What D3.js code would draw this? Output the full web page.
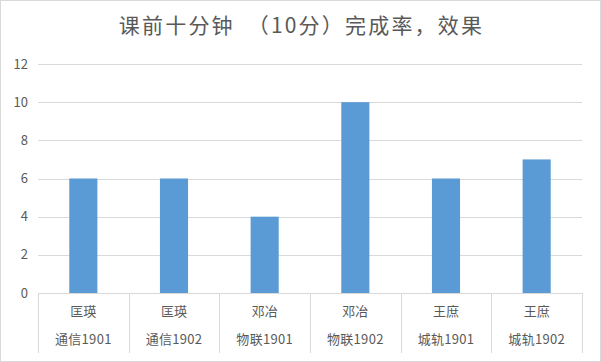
<!DOCTYPE html>
<html>
<head>
<meta charset="utf-8">
<script src="https://cdn.jsdelivr.net/npm/d3@7"></script>
<style>
  body { margin: 0; background: #fff; }
  svg { display: block; font-family: "Noto Sans CJK SC", "Noto Sans", sans-serif; }
</style>
</head>
<body>
<div id="chart"></div>
<script>
// chart data
var teachers = ["匡瑛", "匡瑛", "邓冶", "邓冶", "王庶", "王庶"];
var classes = ["通信1901", "通信1902", "物联1901", "物联1902", "城轨1901", "城轨1902"];
var values = [6, 6, 4, 10, 6, 7];
var yTicks = [0, 2, 4, 6, 8, 10, 12];
var title = "课前十分钟 （10分）完成率，效果";

var width = 601
var height = 362
var margin = { top: 64, right: 19, bottom: 69, left: 38 }

var svg = d3.select("#chart")
    .append("svg")
    .attr("width", width)
    .attr("height", height)

// outer border
svg.append("rect")
    .attr("x", 0.5).attr("y", 0.5)
    .attr("width", width - 1).attr("height", height - 1)
    .attr("fill", "#fff")
    .attr("stroke", "#d9d9d9")

svg.append("text")
    .attr("x", width / 2 + 1)
    .attr("y", 33)
    .attr("text-anchor", "middle")
    .attr("fill", "#595959")
    .style("font-size", "21px")
    .style("letter-spacing", "2.2px")
    .style("word-spacing", "6px")
    .text(title)

var keys = d3.range(values.length)

var x = d3.scaleBand()
    .domain(keys)
    .range([margin.left, width - margin.right])
    .paddingInner(0)

var y = d3.scaleLinear()
    .domain([0, 12])
    .range([height - margin.bottom, margin.top])

// gridlines
svg.append("g")
    .selectAll("line")
    .data(yTicks)
    .enter()
    .append("line")
    .attr("x1", margin.left)
    .attr("x2", width - margin.right)
    .attr("y1", d => Math.round(y(d)) + 0.5)
    .attr("y2", d => Math.round(y(d)) + 0.5)
    .attr("stroke", "#d9d9d9")

// y labels
svg.append("g")
    .selectAll("text")
    .data(yTicks)
    .enter()
    .append("text")
    .attr("x", 28)
    .attr("y", d => y(d))
    .attr("dy", "0.35em")
    .attr("text-anchor", "end")
    .attr("fill", "#595959")
    .style("font-size", "13px")
    .text(d => d)

// bars - Excel style gap width
var barW = x.bandwidth() * 0.31

svg.append("g")
    .selectAll("rect")
    .data(values)
    .enter()
    .append("rect")
    .attr("x", (d, i) => x(i) + (x.bandwidth() - barW) / 2)
    .attr("y", d => y(d))
    .attr("width", barW)
    .attr("height", d => y(0) - y(d))
    .attr("fill", "#5b9bd5")

// category separators
var bounds = keys.map(k => x(k)).concat([width - margin.right])
svg.append("g")
    .selectAll("line")
    .data(bounds)
    .enter()
    .append("line")
    .attr("x1", d => Math.round(d) + 0.5)
    .attr("x2", d => Math.round(d) + 0.5)
    .attr("y1", y(0))
    .attr("y2", y(0) + 60)
    .attr("stroke", "#d9d9d9")

// category labels, two lines
var lab = svg.append("g")
    .selectAll("g")
    .data(keys)
    .enter()
    .append("g")
    .attr("transform", d => "translate(" + (x(d) + x.bandwidth() / 2) + ",0)")

lab.append("text")
    .attr("y", y(0) + 23)
    .attr("text-anchor", "middle")
    .attr("fill", "#595959")
    .style("font-size", "13px")
    .text(d => teachers[d])

lab.append("text")
    .attr("y", y(0) + 51)
    .attr("text-anchor", "middle")
    .attr("fill", "#595959")
    .style("font-size", "13px")
    .style("letter-spacing", "0.3px")
    .text(d => classes[d])
</script>
</body>
</html>
